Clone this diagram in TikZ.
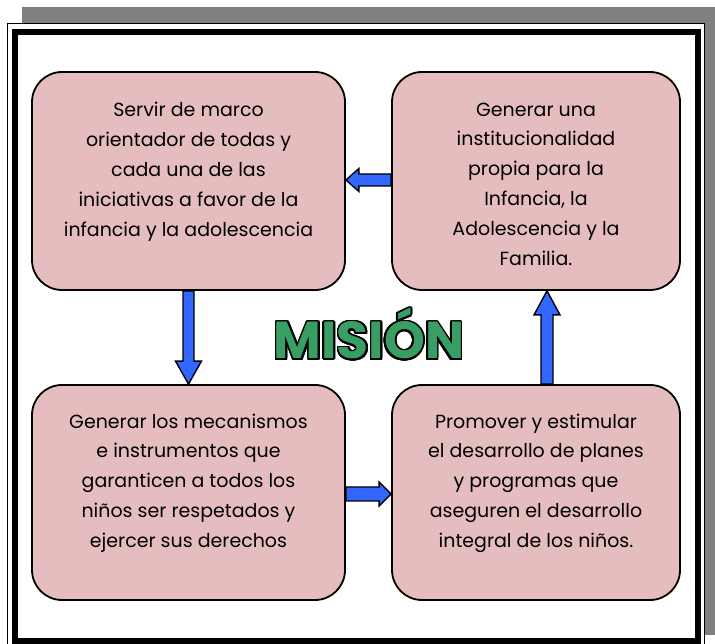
\documentclass[tikz,border=0pt]{standalone}
\usepackage{fontspec}
\setmainfont{Poppins}
\usetikzlibrary{calc}
\definecolor{boxpink}{RGB}{229,189,191}
\definecolor{misgreen}{RGB}{57,158,99}
\definecolor{arrblue}{RGB}{51,102,255}
\definecolor{shadowgray}{RGB}{128,128,128}
\tikzset{
  mbox/.style={draw=black, line width=1.8pt, fill=boxpink, rounded corners=30pt, inner sep=0pt},
  btext/.style={align=center, font=\fontsize{19}{29.8}\selectfont, inner sep=0pt},
  barrow/.style={draw=black, line width=1.4pt, fill=arrblue, line join=miter},
  ttl/.style={font=\fontsize{52}{52}\selectfont\bfseries, inner sep=0pt, anchor=base}
}
\begin{document}
\begin{tikzpicture}[x=1pt,y=1pt]
\useasboundingbox (0,0) rectangle (715,643);
% shadow
\fill[shadowgray] (22,8) rectangle (715,636);
% frame
\filldraw[fill=white, draw=black, line width=1pt] (7,-5) rectangle (704,619);
\draw[line width=6pt] (15,2) rectangle (698,611);
% boxes
\node[mbox, minimum width=313pt, minimum height=218pt] (tl) at (188.5,462) {};
\node[mbox, minimum width=288pt, minimum height=218pt] (tr) at (536,462) {};
\node[mbox, minimum width=313pt, minimum height=215pt] (bl) at (188.5,150.5) {};
\node[mbox, minimum width=288pt, minimum height=215pt] (br) at (536,150.5) {};
% texts
\node[btext] (tlt) at (188.5,471.3) {Servir de marco\\orientador de todas y\\cada una de las\\iniciativas a favor de la\\infancia y la adolescencia};
\node[btext] (trt) at (536,459) {Generar una\\institucionalidad\\propia para la\\Infancia, la\\Adolescencia y la\\Familia.};
\node[btext] (blt) at (188.5,160) {Generar los mecanismos\\e instrumentos que\\garanticen a todos los\\niños ser respetados y\\ejercer sus derechos};
\node[btext] (brt) at (536,160) {Promover y estimular\\el desarrollo de planes\\y programas que\\aseguren el desarrollo\\integral de los niños.};
% title (outline by offset copies)
\coordinate (tc) at (369,284);
\foreach \a in {0,15,...,345}{\node[ttl, text=black] at ($(tc)+(\a:1.8)$) {MISIÓN};}
\node[ttl, text=misgreen] (title) at (tc) {MISIÓN};
% left arrow (tr -> tl)
\coordinate (la1) at ($(tr.west)+(0,1)$);
\coordinate (la2) at (tl.east |- la1);
\draw[barrow] ($(la1)+(0,6)$) -- ($(la2)+(13,6)$) -- ($(la2)+(13,11.5)$) -- (la2) -- ($(la2)+(13,-11.5)$) -- ($(la2)+(13,-6)$) -- ($(la1)+(0,-6)$) -- cycle;
% down arrow (tl -> bl)
\coordinate (da1) at (tl.south);
\coordinate (da2) at (bl.north);
\draw[barrow] ($(da1)+(-5.5,0)$) -- ($(da2)+(-5.5,23)$) -- ($(da2)+(-13,23)$) -- (da2) -- ($(da2)+(13,23)$) -- ($(da2)+(5.5,23)$) -- ($(da1)+(5.5,0)$) -- cycle;
% right arrow (bl -> br)
\coordinate (ra1) at ($(bl.east)+(0,-1.5)$);
\coordinate (ra2) at (br.west |- ra1);
\draw[barrow] ($(ra1)+(0,7)$) -- ($(ra2)+(-12,7)$) -- ($(ra2)+(-12,12)$) -- (ra2) -- ($(ra2)+(-12,-12)$) -- ($(ra2)+(-12,-7)$) -- ($(ra1)+(0,-7)$) -- cycle;
% up arrow (br -> tr)
\coordinate (ua1) at ($(br.north)+(11,0)$);
\coordinate (ua2) at (tr.south -| ua1);
\draw[barrow] ($(ua1)+(-6,0)$) -- ($(ua2)+(-6,-24)$) -- ($(ua2)+(-13,-24)$) -- (ua2) -- ($(ua2)+(13,-24)$) -- ($(ua2)+(6,-24)$) -- ($(ua1)+(6,0)$) -- cycle;
\end{tikzpicture}
\end{document}
